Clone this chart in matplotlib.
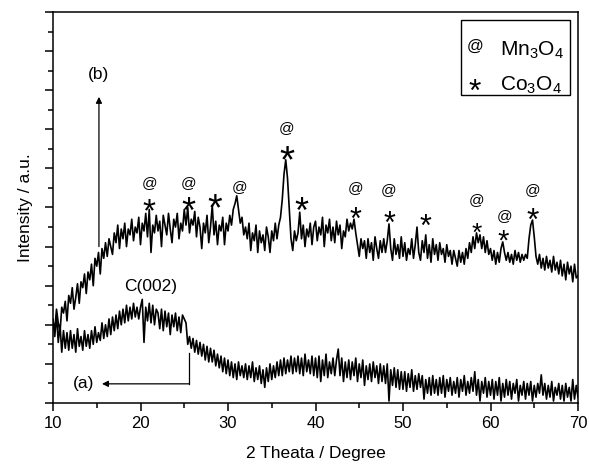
import numpy as np
import matplotlib
matplotlib.use("Agg")
import matplotlib.pyplot as plt
from matplotlib.patches import Rectangle

plt.rcParams['font.family'] = ['Liberation Sans', 'DejaVu Sans']
plt.rcParams['mathtext.fontset'] = 'custom'
plt.rcParams['mathtext.rm'] = 'Liberation Sans'

# ---------------- data ----------------
x_start, x_step = 10.0, 0.2

curve_b = [
    2.10, 1.85, 2.40, 2.05, 1.80, 2.45, 2.30, 2.60, 2.10, 2.75,
    2.55, 2.95, 2.40, 2.70, 3.05, 2.55, 3.10, 2.95, 3.30, 2.80,
    3.35, 3.15, 3.55, 3.00, 3.70, 3.50, 3.85, 3.30, 3.95, 3.70,
    4.10, 3.75, 4.20, 4.00, 3.80, 4.35, 4.10, 4.55, 3.95, 4.45,
    4.20, 4.60, 4.00, 4.45, 4.30, 4.70, 4.15, 4.50, 4.35, 4.75,
    4.05, 4.60, 4.40, 4.85, 4.25, 4.95, 3.85, 4.55, 4.35, 4.80,
    4.40, 4.65, 4.00, 4.80, 4.55, 4.30, 4.85, 4.45, 4.10, 4.70,
    4.50, 4.85, 4.20, 4.60, 4.40, 4.95, 4.55, 5.00, 4.35, 4.70,
    4.55, 4.90, 4.25, 4.75, 4.50, 3.95, 4.60, 4.35, 4.80, 4.10,
    4.50, 5.05, 4.30, 4.65, 4.05, 4.55, 4.40, 4.75, 4.05, 4.60,
    4.40, 4.80, 4.55, 4.95, 5.10, 5.30, 4.95, 4.60, 4.75, 4.30,
    4.50, 4.20, 4.60, 3.90, 4.35, 4.15, 4.55, 3.85, 4.40, 4.10,
    4.30, 3.90, 4.50, 4.25, 3.85, 4.40, 4.15, 4.60, 4.20, 4.55,
    4.75, 5.20, 5.85, 6.22, 5.75, 4.95, 4.20, 3.90, 4.40, 4.15,
    4.35, 4.88, 4.20, 4.55, 4.00, 4.45, 4.25, 4.60, 4.05, 4.50,
    4.65, 4.15, 4.50, 4.30, 4.75, 4.00, 4.55, 4.35, 4.70, 4.15,
    4.50, 4.10, 4.65, 4.30, 4.55, 3.95, 4.40, 4.25, 4.70, 4.40,
    4.60, 4.45, 4.70, 4.35, 4.05, 3.75, 4.20, 3.95, 4.15, 3.70,
    4.20, 3.85, 4.10, 3.65, 4.25, 3.95, 3.70, 4.15, 3.85, 4.20,
    3.85, 4.15, 4.58, 3.95, 3.65, 4.20, 3.80, 4.05, 3.70, 4.25,
    3.75, 4.10, 3.65, 3.95, 3.80, 4.20, 3.70, 4.05, 4.50, 3.85,
    3.65, 4.15, 3.85, 4.30, 3.70, 4.05, 3.60, 4.20, 3.80, 4.05,
    3.65, 4.10, 3.80, 3.95, 3.60, 4.05, 3.75, 3.90, 3.55, 3.90,
    3.70, 3.50, 3.90, 3.60, 3.85, 3.55, 3.95, 3.70, 4.10, 3.85,
    4.25, 3.95, 4.35, 4.10, 4.30, 3.95, 4.25, 3.85, 4.15, 3.80,
    3.95, 3.65, 3.90, 3.55, 3.85, 3.60, 3.95, 4.12, 3.85, 3.65,
    3.85, 3.60, 3.80, 3.55, 3.90, 3.65, 3.85, 3.60, 3.80, 3.65,
    3.80, 3.70, 4.20, 4.55, 4.68, 4.25, 3.75, 3.55, 3.80, 3.45,
    3.70, 3.40, 3.75, 3.45, 3.65, 3.35, 3.75, 3.40, 3.60, 3.30,
    3.65, 3.25, 3.55, 3.15, 3.60, 3.30, 3.50, 3.10, 3.55, 3.20,
    3.25,
]

curve_a = [
    2.15, 1.70, 2.25, 1.55, 2.00, 1.30, 1.85, 1.40, 1.80, 1.35,
    1.85, 1.40, 1.75, 1.30, 1.90, 1.45, 1.70, 1.35, 1.85, 1.45,
    1.75, 1.40, 1.85, 1.50, 1.95, 1.55, 1.80, 1.60, 2.05, 1.65,
    2.00, 1.70, 2.15, 1.75, 2.20, 1.85, 2.25, 1.90, 2.35, 2.00,
    2.40, 2.05, 2.50, 2.10, 2.45, 2.15, 2.55, 2.20, 2.45, 2.15,
    2.45, 2.65, 1.55, 2.45, 2.10, 2.55, 2.05, 2.50, 2.00, 2.40,
    2.30, 1.90, 2.40, 1.85, 2.35, 1.95, 2.30, 1.75, 2.25, 1.95,
    2.30, 1.85, 2.20, 1.80, 2.25, 2.15, 2.05, 1.50, 1.70, 1.40,
    1.65, 1.30, 1.60, 1.25, 1.55, 1.20, 1.50, 1.10, 1.45, 1.05,
    1.40, 1.05, 1.35, 0.95, 1.25, 0.90, 1.20, 0.80, 1.15, 0.75,
    1.10, 0.70, 1.05, 0.65, 1.00, 0.60, 1.05, 0.70, 0.95, 0.65,
    1.00, 0.60, 0.95, 0.65, 1.05, 0.55, 0.90, 0.60, 0.95, 0.50,
    0.85, 0.40, 0.90, 0.55, 1.00, 0.60, 0.95, 0.65, 1.05, 0.70,
    1.10, 0.70, 1.15, 0.75, 1.10, 0.80, 1.20, 0.75, 1.15, 0.80,
    1.20, 0.75, 1.15, 0.70, 1.25, 0.80, 1.10, 0.75, 1.20, 0.70,
    1.15, 0.65, 1.20, 0.55, 1.10, 0.70, 1.25, 0.65, 1.05, 0.75,
    1.15, 0.70, 1.10, 1.38, 0.70, 1.15, 0.55, 1.05, 0.65, 1.10,
    0.60, 1.05, 0.70, 1.15, 0.55, 1.00, 0.65, 1.10, 0.45, 0.95,
    0.60, 1.00, 0.55, 1.05, 0.65, 0.95, 0.50, 1.00, 0.55, 0.95,
    0.50, 1.00, 0.05, 0.85, 0.45, 0.90, 0.40, 0.85, 0.35, 0.80,
    0.35, 0.80, 0.30, 0.75, 0.40, 0.85, 0.30, 0.70, 0.35, 0.75,
    0.40, 0.70, 0.10, 0.60, 0.25, 0.65, 0.20, 0.70, 0.25, 0.60,
    0.20, 0.65, 0.25, 0.70, 0.15, 0.60, 0.30, 0.65, 0.20, 0.55,
    0.25, 0.65, 0.15, 0.60, 0.30, 0.70, 0.20, 0.55, 0.25, 0.65,
    0.30, 0.80, 0.20, 0.60, 0.05, 0.55, 0.25, 0.65, 0.15, 0.55,
    0.20, 0.60, 0.10, 0.55, 0.20, 0.65, 0.05, 0.50, 0.15, 0.60,
    0.20, 0.55, 0.10, 0.50, 0.25, 0.60, 0.05, 0.45, 0.20, 0.55,
    0.10, 0.50, 0.20, 0.55, 0.05, 0.45, 0.15, 0.50, 0.25, 0.72,
    0.20, 0.50, 0.10, 0.45, 0.15, 0.55, 0.05, 0.40, 0.20, 0.50,
    0.10, 0.45, 0.05, 0.50, 0.15, 0.40, 0.05, 0.60, 0.10, 0.45,
    0.15,
]

# peak markers
mn_peaks_x = [21.0, 25.5, 31.3, 36.7, 44.6, 48.4, 58.4, 61.6, 64.8]
mn_peaks_y = [5.63, 5.63, 5.52, 7.03, 5.50, 5.45, 5.19, 4.78, 5.45]
co_peaks_x = [21.0, 25.5, 28.5, 36.7, 38.4, 44.6, 48.4, 52.6, 58.4, 61.4, 64.8]
co_peaks_y = [5.14, 5.14, 5.24, 6.47, 5.14, 4.91, 4.81, 4.73, 4.53, 4.35, 4.91]
co_sizes = [24, 26, 27, 28, 26, 22, 22, 22, 19, 21, 23]

x_ticks = [10, 20, 30, 40, 50, 60, 70]

# ---------------- figure ----------------
fig = plt.figure(figsize=(5.89, 4.69), dpi=100)
ax = fig.add_axes([53/589, 1 - 403/469, 525/589, 391/469])

xs = x_start + x_step * np.arange(len(curve_b))
ax.plot(xs, curve_b, color='black', lw=1.2)
ax.plot(xs, curve_a, color='black', lw=1.2)

ax.set_xlim(10, 70)
ax.set_ylim(0, 10)
ax.set_xticks(x_ticks)
ax.set_xticks(np.arange(15, 70, 10), minor=True)
ax.set_yticks(np.arange(0, 10.01, 1))
ax.set_yticks(np.arange(0.5, 10, 1), minor=True)
ax.set_yticklabels([])
ax.tick_params(axis='both', which='major', direction='out', length=6, width=1.1,
               labelsize=12, top=False, right=False)
ax.tick_params(axis='both', which='minor', direction='out', length=3.5, width=1.1,
               top=False, right=False)
for s in ax.spines.values():
    s.set_linewidth(1.1)

ax.set_xlabel('2 Theata / Degree', fontsize=12.5, labelpad=11)
ax.set_ylabel('Intensity / a.u.', fontsize=12.5, labelpad=5)

# peak labels
for px, py in zip(mn_peaks_x, mn_peaks_y):
    ax.text(px, py, '@', ha='center', va='center', fontsize=11)
for px, py, fs in zip(co_peaks_x, co_peaks_y, co_sizes):
    ax.annotate('*', xy=(px, py), xytext=(0, -0.58 * fs), textcoords='offset points',
                ha='center', va='baseline', fontsize=fs)

# (b) arrow
ax.annotate('', xy=(15.25, 7.83), xytext=(15.25, 4.0),
            arrowprops=dict(arrowstyle='-|>', color='black', lw=0.9,
                            mutation_scale=9, shrinkA=0, shrinkB=0))
ax.text(15.25, 8.4, '(b)', ha='center', va='center', fontsize=12.5)

# (a) arrow
ax.plot([25.54, 25.54], [1.28, 0.49], color='black', lw=0.9)
ax.annotate('', xy=(15.6, 0.49), xytext=(25.54, 0.49),
            arrowprops=dict(arrowstyle='-|>', color='black', lw=0.9,
                            mutation_scale=9, shrinkA=0, shrinkB=0))
ax.text(13.5, 0.5, '(a)', ha='center', va='center', fontsize=12.5)

ax.text(21.14, 2.98, 'C(002)', ha='center', va='center', fontsize=12.5)

# legend box
ax.add_patch(Rectangle((0.778, 0.787), 0.207, 0.193, transform=ax.transAxes,
                       fill=False, edgecolor='black', lw=1.0))
ax.text(0.804, 0.912, '@', transform=ax.transAxes, ha='center', va='center', fontsize=12)
ax.annotate('*', xy=(0.804, 0.82), xycoords='axes fraction',
            xytext=(0, -0.58 * 23), textcoords='offset points',
            ha='center', va='baseline', fontsize=23)
ax.text(0.852, 0.89, r'Mn$_\mathregular{3}$O$_\mathregular{4}$', transform=ax.transAxes,
        ha='left', va='baseline', fontsize=15)
ax.text(0.852, 0.80, r'Co$_\mathregular{3}$O$_\mathregular{4}$', transform=ax.transAxes,
        ha='left', va='baseline', fontsize=15)

fig.savefig('out.png', dpi=100)
